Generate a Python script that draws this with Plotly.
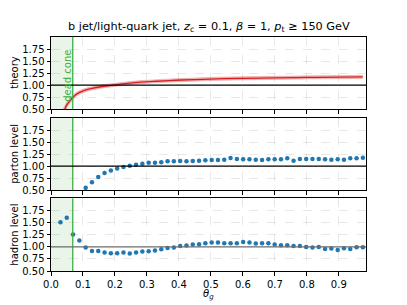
import plotly.graph_objects as go

# ---------------- data ----------------
theta_bins = [0.0296, 0.0493, 0.0690, 0.0887, 0.1084, 0.1281, 0.1478, 0.1675, 0.1872, 0.2069,
              0.2266, 0.2463, 0.2660, 0.2857, 0.3054, 0.3251, 0.3448, 0.3645, 0.3842, 0.4039,
              0.4236, 0.4433, 0.4630, 0.4827, 0.5024, 0.5221, 0.5418, 0.5615, 0.5812, 0.6009,
              0.6206, 0.6403, 0.6600, 0.6797, 0.6994, 0.7191, 0.7388, 0.7585, 0.7782, 0.7979,
              0.8176, 0.8373, 0.8570, 0.8767, 0.8964, 0.9161, 0.9358, 0.9555, 0.9752]

# parton level starts at 5th bin (0.108)
parton_theta = theta_bins[4:]
parton_ratio = [0.545, 0.664, 0.769, 0.853, 0.909, 0.951, 0.979, 1.007, 1.028, 1.049,
                1.070, 1.070, 1.077, 1.098, 1.098, 1.105, 1.098, 1.105, 1.112, 1.119,
                1.126, 1.126, 1.133, 1.168, 1.147, 1.140, 1.140, 1.133, 1.126, 1.140,
                1.140, 1.140, 1.161, 1.112, 1.147, 1.147, 1.147, 1.147, 1.140, 1.133,
                1.140, 1.133, 1.161, 1.161, 1.175]

hadron_theta = theta_bins
hadron_ratio = [1.514, 1.604, 1.257, 1.132, 0.986, 0.917, 0.917, 0.882, 0.868, 0.868,
                0.882, 0.861, 0.882, 0.903, 0.910, 0.924, 0.951, 0.979, 0.986, 1.021,
                1.028, 1.052, 1.056, 1.076, 1.090, 1.090, 1.076, 1.076, 1.076, 1.104,
                1.090, 1.069, 1.076, 1.076, 1.049, 1.035, 1.035, 1.021, 1.021, 1.000,
                0.986, 1.000, 0.958, 0.965, 0.938, 0.972, 0.958, 0.993, 0.993]

theory_theta = [0.036, 0.043, 0.050, 0.060, 0.068, 0.080, 0.097, 0.128, 0.160, 0.194,
                0.240, 0.280, 0.330, 0.390, 0.450, 0.520, 0.590, 0.700, 0.800, 0.900, 0.975]
theory_ratio = [0.42, 0.50, 0.59, 0.68, 0.74, 0.81, 0.87, 0.93, 0.97, 1.00,
                1.035, 1.06, 1.08, 1.10, 1.115, 1.13, 1.14, 1.15, 1.16, 1.165, 1.17]
theory_err = [0.065, 0.06, 0.055, 0.05, 0.045, 0.04, 0.037, 0.035, 0.034, 0.033,
              0.033, 0.033, 0.033, 0.033, 0.033, 0.033, 0.033, 0.033, 0.033, 0.033, 0.033]

dead_cone = 0.068
x_range = [0.0, 0.985]
y_range = [0.5, 2.01]
x_ticks = [0.0, 0.1, 0.2, 0.3, 0.4, 0.5, 0.6, 0.7, 0.8, 0.9]
y_ticks = [0.50, 0.75, 1.00, 1.25, 1.50, 1.75]
panel_labels = ["theory", "parton level", "hadron level"]
title_text = ("b jet/light-quark jet, <i>z</i><sub>c</sub> = 0.1, <i>β</i> = 1, "
              "<i>p</i><sub>t</sub> ≥ 150 GeV")

# ---------------- figure ----------------
W, H = 407, 305
FONT = "DejaVu Sans"
xdom = [51 / W, 366 / W]
ydoms = [[(H - 109) / H, (H - 36.7) / H],
         [(H - 190) / H, (H - 117.7) / H],
         [(H - 271) / H, (H - 198.3) / H]]

fig = go.Figure()

upper = [v + e for v, e in zip(theory_ratio, theory_err)]
lower = [v - e for v, e in zip(theory_ratio, theory_err)]
fig.add_trace(go.Scatter(x=theory_theta, y=lower, mode="lines",
                         line=dict(width=0.6, color="rgba(214,39,40,0.35)", shape="spline"),
                         showlegend=False, hoverinfo="skip", xaxis="x", yaxis="y"))
fig.add_trace(go.Scatter(x=theory_theta, y=upper, mode="lines",
                         line=dict(width=0.6, color="rgba(214,39,40,0.35)", shape="spline"),
                         fill="tonexty", fillcolor="rgba(214,39,40,0.3)",
                         showlegend=False, hoverinfo="skip", xaxis="x", yaxis="y"))
fig.add_trace(go.Scatter(x=theory_theta, y=theory_ratio, mode="lines",
                         line=dict(color="rgb(214,30,30)", width=1.3, shape="spline"),
                         showlegend=False, xaxis="x", yaxis="y"))

fig.add_trace(go.Scatter(x=parton_theta, y=parton_ratio, mode="markers",
                         marker=dict(color="#1f77b4", size=4.5),
                         showlegend=False, xaxis="x2", yaxis="y2", cliponaxis=True))
fig.add_trace(go.Scatter(x=hadron_theta, y=hadron_ratio, mode="markers",
                         marker=dict(color="#1f77b4", size=4.5),
                         showlegend=False, xaxis="x3", yaxis="y3", cliponaxis=True))

axis_common = dict(showline=True, mirror=True, linecolor="black", linewidth=1,
                   ticks="outside", ticklen=3.5, tickwidth=1, tickcolor="black",
                   showgrid=True, gridcolor="rgba(0,0,0,0.09)", gridwidth=0.8, griddash="dash",
                   zeroline=False, automargin=False,
                   tickfont=dict(family=FONT, size=10, color="black"))

layout = dict(width=W, height=H, margin=dict(l=0, r=0, t=0, b=0, pad=0),
              paper_bgcolor="white", plot_bgcolor="white", showlegend=False,
              font=dict(family=FONT, size=10, color="black"))

shapes = []
annotations = []
for i in range(3):
    sfx = "" if i == 0 else str(i + 1)
    xa = "x" + sfx
    ya = "y" + sfx
    layout["xaxis" + sfx] = dict(axis_common, domain=xdom, range=x_range, tickvals=x_ticks,
                                 tickformat=".1f", showticklabels=(i == 2), anchor=ya)
    layout["yaxis" + sfx] = dict(axis_common, domain=ydoms[i], range=y_range, tickvals=y_ticks,
                                 tickformat=".2f", anchor=xa)
    shapes.append(dict(type="rect", xref=xa, yref=ya + " domain", x0=0, x1=dead_cone, y0=0, y1=1,
                       fillcolor="rgba(44,160,44,0.11)", line=dict(width=0), layer="below"))
    shapes.append(dict(type="line", xref=xa, yref=ya + " domain", x0=dead_cone, x1=dead_cone, y0=0, y1=1,
                       line=dict(color="#3cb043", width=1.3)))
    shapes.append(dict(type="line", xref=xa + " domain", yref=ya, x0=0, x1=1, y0=1, y1=1,
                       line=dict(color="black" if i < 2 else "#6e6e6e", width=1.2)))
    annotations.append(dict(text=panel_labels[i], xref="paper", yref="paper",
                            x=15 / W, y=sum(ydoms[i]) / 2, textangle=-90, showarrow=False,
                            xanchor="center", yanchor="middle",
                            font=dict(family=FONT, size=10, color="black")))

annotations.append(dict(text="dead cone", xref="x", yref="y", x=0.051, y=1.2, textangle=-90,
                        showarrow=False, xanchor="center", yanchor="middle",
                        font=dict(family=FONT, size=10, color="#3cb043")))
annotations.append(dict(text="<i>θ</i><sub><i>g</i></sub>", xref="paper", yref="paper",
                        x=(51 + 366) / 2 / W, y=1 - 294 / H, showarrow=False,
                        xanchor="center", yanchor="middle",
                        font=dict(family=FONT, size=10, color="black")))
annotations.append(dict(text=title_text, xref="paper", yref="paper",
                        x=(51 + 366) / 2 / W, y=1 - 27 / H, showarrow=False,
                        xanchor="center", yanchor="middle",
                        font=dict(family=FONT, size=11.3, color="black")))

layout["shapes"] = shapes
layout["annotations"] = annotations
fig.update_layout(**layout)

fig.write_html("out.html", config={"displayModeBar": False},
               post_script="document.body.style.margin='0';document.body.style.padding='0';")
